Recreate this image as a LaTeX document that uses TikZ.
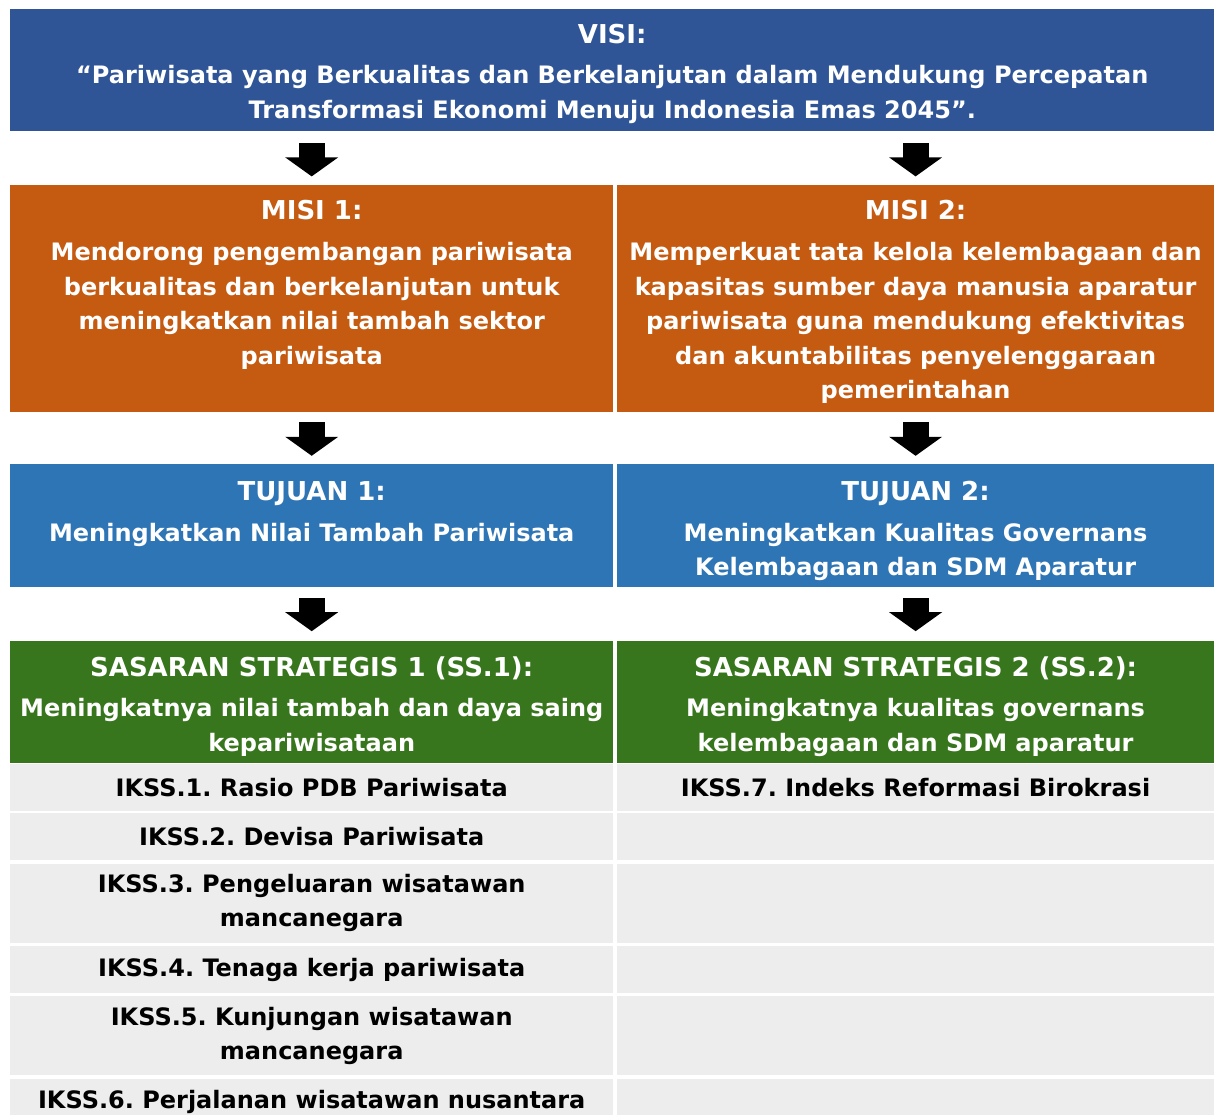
\documentclass[tikz,border=0pt]{standalone}
\usepackage{fontspec}
\setmainfont{DejaVu Sans}
\usetikzlibrary{positioning,arrows.meta,calc}
\definecolor{visiblue}{HTML}{2F5597}
\definecolor{misiorange}{HTML}{C55A11}
\definecolor{tujuanblue}{HTML}{2E75B6}
\definecolor{sasarangreen}{HTML}{38761D}
\definecolor{ikssgray}{HTML}{EDEDED}
\newcommand{\judul}[1]{{\fontsize{26}{30}\selectfont\rule{0pt}{20pt}#1}}
\frenchspacing

\begin{document}
\begin{tikzpicture}[x=1pt,y=-1pt,
    kotak/.style={rectangle, inner sep=0pt, anchor=north west},
    kiri/.style={kotak, minimum width=603pt},
    kanan/.style={kotak, minimum width=598pt},
    isi/.style={inner sep=0pt, anchor=north, align=center, text=white,
      font=\bfseries\fontsize{24}{34.5}\selectfont},
    ikss/.style={fill=ikssgray, align=center, text=black,
      font=\bfseries\fontsize{24}{34.5}\selectfont},
    blok/.style={line width=26pt, -{Triangle[length=19pt,width=52pt]}}]
  \useasboundingbox (0,0) rectangle (1214,1115);
  \begin{scope}
    \clip (0,0) rectangle (1214,1115);

    % Visi
    \node[kotak, fill=visiblue, minimum width=1204pt, minimum height=122pt] (visi) at (10,9) {};
    \node[isi, below=14pt of visi.north] (visi-t) {\judul{VISI:}\\[6pt]
      “Pariwisata yang Berkualitas dan Berkelanjutan dalam Mendukung Percepatan\\
      Transformasi Ekonomi Menuju Indonesia Emas 2045”.};

    % Misi
    \node[kiri, fill=misiorange, minimum height=227pt, below=53pt of visi.south west, anchor=north west] (misiA) {};
    \node[kanan, fill=misiorange, minimum height=227pt, right=3pt of misiA] (misiB) {};
    \node[isi, below=15pt of misiA.north] (misiA-t) {\judul{MISI 1:}\\[6.5pt]
      Mendorong pengembangan pariwisata\\
      berkualitas dan berkelanjutan untuk\\
      meningkatkan nilai tambah sektor\\
      pariwisata};
    \node[isi, below=15pt of misiB.north] (misiB-t) {\judul{MISI 2:}\\[6.5pt]
      Memperkuat tata kelola kelembagaan dan\\
      kapasitas sumber daya manusia aparatur\\
      pariwisata guna mendukung efektivitas\\
      dan akuntabilitas penyelenggaraan\\
      pemerintahan};

    % Tujuan
    \node[kiri, fill=tujuanblue, minimum height=123pt, below=52pt of misiA.south west, anchor=north west] (tujuanA) {};
    \node[kanan, fill=tujuanblue, minimum height=123pt, right=3pt of tujuanA] (tujuanB) {};
    \node[isi, below=16pt of tujuanA.north] (tujuanA-t) {\judul{TUJUAN 1:}\\[6.5pt]
      Meningkatkan Nilai Tambah Pariwisata};
    \node[isi, below=16pt of tujuanB.north] (tujuanB-t) {\judul{TUJUAN 2:}\\[6.5pt]
      Meningkatkan Kualitas Governans\\
      Kelembagaan dan SDM Aparatur};

    % Sasaran strategis
    \node[kiri, fill=sasarangreen, minimum height=122pt, below=54pt of tujuanA.south west, anchor=north west] (sasaranA) {};
    \node[kanan, fill=sasarangreen, minimum height=122pt, right=3pt of sasaranA] (sasaranB) {};
    \node[isi, below=15pt of sasaranA.north] (sasaranA-t) {\judul{SASARAN STRATEGIS 1 (SS.1):}\\[6pt]
      Meningkatnya nilai tambah dan daya saing\\
      kepariwisataan};
    \node[isi, below=15pt of sasaranB.north] (sasaranB-t) {\judul{SASARAN STRATEGIS 2 (SS.2):}\\[6pt]
      Meningkatnya kualitas governans\\
      kelembagaan dan SDM aparatur};

    % Indikator kinerja sasaran strategis
    \node[kiri, ikss, minimum height=47pt, below=0pt of sasaranA.south west, anchor=north west] (ikssA1) {IKSS.1. Rasio PDB Pariwisata};
    \node[kiri, ikss, minimum height=47pt, below=2pt of ikssA1.south west, anchor=north west] (ikssA2) {IKSS.2. Devisa Pariwisata};
    \node[kiri, ikss, minimum height=79pt, below=3pt of ikssA2.south west, anchor=north west] (ikssA3) {IKSS.3. Pengeluaran wisatawan\\ mancanegara};
    \node[kiri, ikss, minimum height=47pt, below=3pt of ikssA3.south west, anchor=north west] (ikssA4) {IKSS.4. Tenaga kerja pariwisata};
    \node[kiri, ikss, minimum height=79pt, below=3pt of ikssA4.south west, anchor=north west] (ikssA5) {IKSS.5. Kunjungan wisatawan\\ mancanegara};
    \node[kiri, ikss, minimum height=47pt, below=3pt of ikssA5.south west, anchor=north west] (ikssA6) {IKSS.6. Perjalanan wisatawan nusantara};

    \node[kanan, ikss, minimum height=47pt, right=3pt of ikssA1] (ikssB1) {IKSS.7. Indeks Reformasi Birokrasi};
    \node[kanan, ikss, minimum height=47pt, right=3pt of ikssA2] (ikssB2) {};
    \node[kanan, ikss, minimum height=79pt, right=3pt of ikssA3] (ikssB3) {};
    \node[kanan, ikss, minimum height=47pt, right=3pt of ikssA4] (ikssB4) {};
    \node[kanan, ikss, minimum height=79pt, right=3pt of ikssA5] (ikssB5) {};
    \node[kanan, ikss, minimum height=47pt, right=3pt of ikssA6] (ikssB6) {};

    % Panah
    \draw[blok] ($(visi.south -| misiA.north)+(0,12)$) -- ($(misiA.north)+(0,-8)$);
    \draw[blok] ($(visi.south -| misiB.north)+(0,12)$) -- ($(misiB.north)+(0,-8)$);
    \draw[blok] ($(misiA.south)+(0,10)$) -- ($(tujuanA.north)+(0,-8)$);
    \draw[blok] ($(misiB.south)+(0,10)$) -- ($(tujuanB.north)+(0,-8)$);
    \draw[blok] ($(tujuanA.south)+(0,11)$) -- ($(sasaranA.north)+(0,-10)$);
    \draw[blok] ($(tujuanB.south)+(0,11)$) -- ($(sasaranB.north)+(0,-10)$);
  \end{scope}
\end{tikzpicture}
\end{document}
